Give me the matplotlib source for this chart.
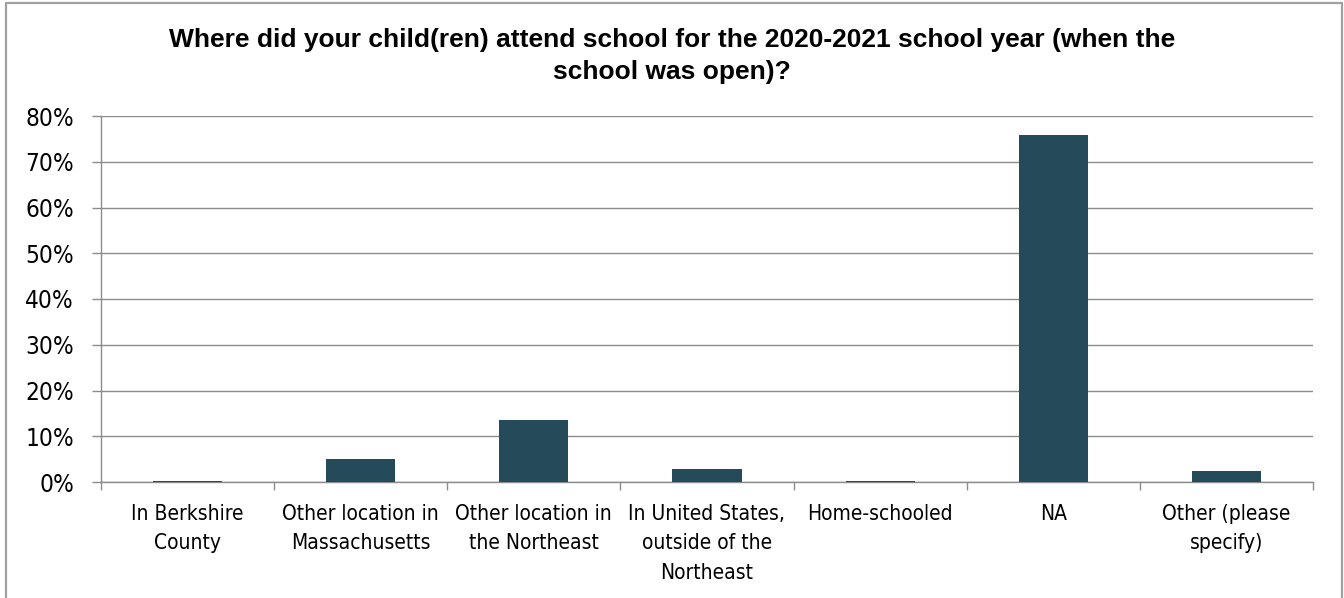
import matplotlib
matplotlib.use("Agg")
import matplotlib.pyplot as plt
from matplotlib.ticker import PercentFormatter, FixedLocator
from matplotlib.lines import Line2D

categories = [
    "In Berkshire\nCounty",
    "Other location in\nMassachusetts",
    "Other location in\nthe Northeast",
    "In United States,\noutside of the\nNortheast",
    "Home-schooled",
    "NA",
    "Other (please\nspecify)",
]
shares = [0.3, 5.0, 13.6, 2.9, 0.2, 75.9, 2.4]
y_ticks = [0, 10, 20, 30, 40, 50, 60, 70, 80]
title = ("Where did your child(ren) attend school for the 2020-2021 school year (when the\n"
         "school was open)?")

bar_color = "#254B5A"
line_grey = "#8C8C8C"
W, H = 1344, 598

fig = plt.figure(figsize=(W / 100, H / 100), dpi=100)
ax = fig.add_axes([101 / W, 1 - 482 / H, (1313 - 101) / W, (482 - 116) / H])

x = list(range(len(categories)))
ax.bar(x, shares, width=0.4, color=bar_color, zorder=3)

ax.set_xlim(-0.5, len(categories) - 0.5)
ax.set_ylim(0, 80)
ax.yaxis.set_major_locator(FixedLocator(y_ticks))
ax.yaxis.set_major_formatter(PercentFormatter(decimals=0))
ax.grid(axis="y", color=line_grey, linewidth=1.0, zorder=0)

ax.set_xticks(x)
ax.set_xticklabels(categories, fontsize=15, family="DejaVu Sans",
                   fontstretch="condensed", linespacing=1.6)
ax.set_xticks([i - 0.5 for i in range(len(categories) + 1)], minor=True)
ax.tick_params(axis="x", which="major", length=0, pad=15.5)
ax.tick_params(axis="x", which="minor", length=6, color=line_grey, width=1, direction="out")
ax.tick_params(axis="y", length=6.5, color=line_grey, width=1, labelsize=17.5, pad=13)
for lbl in ax.get_yticklabels():
    lbl.set_family("DejaVu Sans")
    lbl.set_fontstretch("condensed")

for side in ("top", "right"):
    ax.spines[side].set_visible(False)
for side in ("left", "bottom"):
    ax.spines[side].set_color(line_grey)
    ax.spines[side].set_linewidth(1.0)

fig.text(0.5, 1 - 28 / H, title, ha="center", va="top", fontsize=19,
         fontweight="bold", family="Liberation Sans", linespacing=1.4)

# chart frame: left, top and right edges
frame_x = [5.5 / W, 5.5 / W, 1342 / W, 1342 / W]
frame_y = [0.0, 1 - 2.5 / H, 1 - 2.5 / H, 0.0]
fig.add_artist(Line2D(frame_x, frame_y, transform=fig.transFigure,
                      color="#A0A0A0", linewidth=1.6))

fig.savefig("out.png", dpi=100)
